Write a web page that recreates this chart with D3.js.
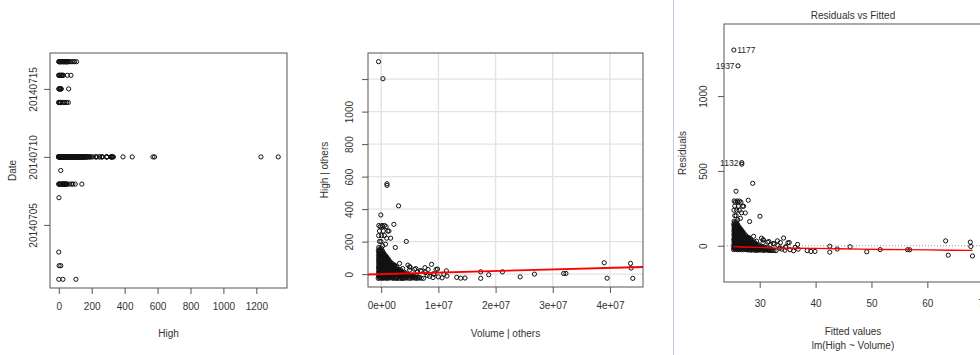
<!DOCTYPE html>
<html>
<head>
<meta charset="utf-8">
<script src="https://cdn.jsdelivr.net/npm/d3@7"></script>
<style>
  body { margin: 0; background: #fff; }
  svg { display: block; font-family: "Liberation Sans", Arial, sans-serif; }
</style>
</head>
<body>
<svg id="chart" width="980" height="355"></svg>
<script>
// ---- Data: one list of [High, Volume (thousand shares)] per trading day ----
const jul01 = [[0,4200],[25,9800],[104,1200]];
const jul02 = [[2,15200],[12,2600]];
const jul03 = [[0,3300]];
const jul07 = [[1,40050]];
const jul08 = [[1,380],[2,3400],[0,7930],[10,2080],[11,5860],[21,1580],[18,3860],[20,6140],[26,1000],[30,3280],
  [28,4800],[35,850],[38,2370],[36,3890],[44,1040],[47,2560],[45,4080],[53,2760],[66,8200],[78,2500],[86,9350],
  [100,1700],[140,900]];
const jul09 = [[12,2300]];
const jul10 = [
  [0,20],[2,1150],[3,2260],[1,3010],[0,3790],[0,4520],[1,5300],[3,6050],[0,6800],[1,7550],
  [5,200],[4,900],[6,1700],[5,2500],[4,3300],[6,4100],[5,4900],[4,5700],[6,6500],[5,7200],
  [9,190],[11,1330],[12,2450],[10,3200],[9,3960],[8,4720],[9,5480],[10,6240],[9,7000],
  [14,400],[13,1100],[15,1900],[14,2700],[13,3500],[15,4300],[14,5100],[13,5900],
  [18,60],[17,820],[18,1960],[19,2720],[21,3480],[20,4240],[17,5000],[18,5760],
  [23,150],[22,900],[24,1650],[23,2400],[22,3150],[24,3900],[23,4650],[22,5400],
  [27,250],[30,1380],[27,2140],[26,2900],[28,3660],[29,4420],[26,5180],
  [32,350],[31,1100],[33,1800],[32,2550],[31,3300],[33,4050],
  [36,90],[39,1230],[36,1990],[35,2750],[37,3510],[38,4270],
  [41,180],[40,950],[42,1700],[41,2450],[40,3200],[42,3950],
  [45,280],[48,1420],[45,2180],[44,2940],[46,3700],
  [50,400],[49,1150],[51,1900],[50,2650],[49,3400],
  [54,100],[53,860],[55,1620],[56,2380],[57,3140],[54,3880],
  [59,200],[58,950],[60,1700],[59,2450],[58,3100],
  [63,300],[65,680],[62,1060],[66,1440],[64,1820],[63,2200],[65,2580],[62,2960],[64,3340],
  [68,100],[67,850],[69,1600],[68,2350],
  [72,120],[74,500],[71,880],[75,1260],[73,1640],[72,2020],[74,2400],[71,2780],[73,3160],
  [77,300],[76,1000],[78,1700],[77,2400],
  [81,310],[83,690],[80,1070],[84,1450],[82,1830],[81,2210],[83,2590],[82,2900],
  [86,150],[85,800],[87,1500],[86,2150],
  [90,140],[92,520],[89,900],[93,1280],[91,1660],[90,2040],[92,2420],
  [95,350],[94,1000],[96,1700],
  [99,330],[101,710],[98,1090],[102,1470],[100,1850],[99,2200],
  [104,100],[103,800],[105,1500],
  [108,160],[110,540],[107,920],[111,1300],[109,1680],[108,1980],
  [113,300],[112,950],[114,1600],
  [117,350],[119,730],[116,1110],[120,1490],[118,1790],
  [122,100],[121,800],[123,1400],
  [126,180],[128,560],[125,940],[129,1320],[127,1580],
  [131,250],[130,900],
  [135,370],[137,750],[134,1130],[136,1400],
  [140,100],[139,700],
  [144,200],[146,580],[143,960],[145,1200],
  [149,300],[148,900],
  [153,390],[155,770],[152,1000],
  [158,100],[157,600],
  [162,220],[164,600],[163,850],
  [167,300],
  [171,60],[173,410],[172,700],
  [181,250],[186,560],[190,120],
  [325,130],[318,370],[318,830],[325,1130],[332,2760],[390,480],[446,3585],[227,4940],[190,3010],[263,100],
  [263,600],[291,250],[318,1400],[291,1700],[263,1100],[291,900],[247,2200],[247,1500],[227,500],[325,700],
  [291,1900],[210,1300],[227,250],[200,800],
  [1333,80],[1228,850],[582,1550],[572,1560],
  [35,8300],[12,9000],[28,9700],[3,11200],[18,8600],[48,7400],[60,6600],[70,5500],[40,6900],[5,9600],
  [25,11500],[92,3760],[81,5220],[55,6390],[51,5520],[44,7570],
  [55,8750],[55,10150],[57,10400],[46,11950],[9,10550],[6,13750],[1,14450],[40,17950],[0,17950],[22,19350],
  [40,21750],[9,24850],[26,27350],[30,32450],[30,32850],[0,44550]
];
const jul14 = [[0,1500],[0,5680],[8,950],[10,4340],[4,3200],[12,600],[22,1000],[30,2900],[38,1800],[48,3700],[58,2400]];
const jul15 = [[0,760],[2,4900],[9,1700],[12,5100],[5,2500],[14,800],[14,12050],[60,4300]];
const jul16 = [[0,2640],[1,6420],[8,2830],[20,430],[20,2340],[21,5380],[28,1760],[52,1240],[74,2650],[4,1300],[13,4000],[16,900]];
const jul17 = [[1,1880],[1,4150],[2,7180],[10,570],[11,3580],[8,6620],[19,1200],[17,3100],[19,4620],[29,620],
  [29,2520],[27,4040],[38,470],[37,1610],[39,3130],[37,4650],[47,660],[46,1800],[48,3320],[56,480],
  [54,2000],[55,3520],[70,5600],[80,2800],[108,1400],[96,39550],[92,44150],[63,44250]];

const sessions = [
  [20140701, jul01], [20140702, jul02], [20140703, jul03], [20140707, jul07], [20140708, jul08],
  [20140709, jul09], [20140710, jul10], [20140714, jul14], [20140715, jul15], [20140716, jul16], [20140717, jul17]
];

// lm(High ~ Volume) coefficients and the sample mean of Volume
const fitIntercept = 25.3;
const fitSlope = 0.96e-6;
const volumeMean = 5.5e5;

// Row names of the three largest residuals, largest first
const outlierIds = [1177, 1937, 1132];

// Lowess smooth of the residuals (fitted value, residual)
const smoothFitted = [25.3, 27, 30, 33.5, 36, 40, 44, 48, 52, 56, 60, 64, 68.1];
const smoothResid  = [-6, -8, -11, -15, -16.5, -18, -20, -22, -25, -26, -28, -30, -31];

// Tick values and labels
const highTicks = [0, 200, 400, 600, 800, 1000, 1200];
const dateTicks = [20140705, 20140710, 20140715];
const volumeTicks = [0, 1e7, 2e7, 3e7, 4e7];
const volumeTickLabels = ["0e+00", "1e+07", "2e+07", "3e+07", "4e+07"];
const avTicks = [0, 200, 400, 600, 800, 1000, 1200];
const avTickLabels = ["0", "200", "400", "600", "800", "1000", ""];
const fittedTicks = [30, 40, 50, 60, 70];
const residTicks = [0, 500, 1000];

// ---- Derived quantities ----
const highMean = fitIntercept + fitSlope * volumeMean;
const obs = [];
sessions.forEach(([date, rows]) => rows.forEach(([high, vk]) => {
  const volume = vk * 1000;
  const fitted = fitIntercept + fitSlope * volume;
  obs.push({ date, high, volume,
    avX: volume - volumeMean, avY: high - highMean,
    fitted, resid: high - fitted });
}));

// ---- Drawing helpers ----
const svg = d3.select("#chart");
const TEXT = "#333", LINE = "#555", PT = "#111";
const FONT = "'Liberation Sans', Arial, sans-serif";

const pad = ([lo, hi], f = 0.04) => { const d = (hi - lo) * f; return [lo - d, hi + d]; };

function points(g, data, x, y) {
  g.append("g").selectAll("circle").data(data).join("circle")
    .attr("cx", d => x(d)).attr("cy", d => y(d)).attr("r", 2.1)
    .attr("fill", "none").attr("stroke", PT).attr("stroke-width", 1);
}
function box(p) {
  svg.append("rect").attr("x", p.left).attr("y", p.top)
    .attr("width", p.right - p.left).attr("height", p.bottom - p.top)
    .attr("fill", "none").attr("stroke", LINE).attr("stroke-width", 1);
}
function styleAxis(g) {
  g.select(".domain").remove();
  g.selectAll("line").attr("stroke", LINE);
  g.selectAll("text").attr("fill", TEXT).attr("font-size", 10).attr("font-family", FONT);
}
function xAxis(p, scale, vals, labels, padding = 9) {
  svg.append("g").attr("transform", `translate(0,${p.bottom})`)
    .call(d3.axisBottom(scale).tickValues(vals).tickSize(6).tickPadding(padding)
      .tickFormat((d, i) => labels ? labels[i] : d))
    .call(styleAxis);
}
function yAxis(p, scale, vals, labels, dist) {
  svg.append("g").attr("transform", `translate(${p.left},0)`)
    .call(d3.axisLeft(scale).tickValues(vals).tickSize(6)
      .tickFormat((d, i) => labels ? labels[i] : d))
    .call(styleAxis)
    .call(g => g.selectAll("text")
      .attr("transform", "rotate(-90)").attr("x", 0).attr("y", -dist)
      .attr("dy", "0.35em").attr("text-anchor", "middle"));
}
function label(x, y, txt, rotate, size = 10) {
  svg.append("text").attr("transform", `translate(${x},${y})${rotate ? " rotate(-90)" : ""}`)
    .attr("text-anchor", "middle").attr("dy", "0.35em")
    .attr("font-size", size).attr("fill", TEXT).text(txt);
}

// ---- Panel 1: High by Date ----
const p1 = { left: 50, right: 287, top: 53, bottom: 288 };
const x1 = d3.scaleLinear().domain(pad(d3.extent(obs, d => d.high))).range([p1.left, p1.right]);
const y1 = d3.scaleLinear().domain(pad(d3.extent(obs, d => d.date))).range([p1.bottom, p1.top]);
points(svg, obs, d => x1(d.high), d => y1(d.date));
box(p1);
xAxis(p1, x1, highTicks);
yAxis(p1, y1, dateTicks, null, 17);
label((p1.left + p1.right) / 2, 333, "High");
label(12, (p1.top + p1.bottom) / 2, "Date", true);

// ---- Panel 2: added-variable plot ----
const p2 = { left: 368, right: 643, top: 53, bottom: 287 };
const x2 = d3.scaleLinear().domain(pad(d3.extent(obs, d => d.avX))).range([p2.left, p2.right]);
const y2 = d3.scaleLinear().domain(pad(d3.extent(obs, d => d.avY))).range([p2.bottom, p2.top]);
const grid = svg.append("g").attr("stroke", "#e3e3e3").attr("stroke-width", 1.4);
grid.selectAll(".gx").data(volumeTicks).join("line")
  .attr("x1", d => x2(d)).attr("x2", d => x2(d)).attr("y1", p2.top).attr("y2", p2.bottom);
grid.selectAll(".gy").data(avTicks).join("line")
  .attr("x1", p2.left).attr("x2", p2.right).attr("y1", d => y2(d)).attr("y2", d => y2(d));
points(svg, obs, d => x2(d.avX), d => y2(d.avY));
const [ax0, ax1] = x2.domain();
svg.append("line").attr("x1", x2(ax0)).attr("x2", x2(ax1))
  .attr("y1", y2(fitSlope * ax0)).attr("y2", y2(fitSlope * ax1))
  .attr("stroke", "#ff0000").attr("stroke-width", 1.8);
box(p2);
xAxis(p2, x2, volumeTicks, volumeTickLabels);
yAxis(p2, y2, avTicks, avTickLabels, 19);
label((p2.left + p2.right) / 2, 333, "Volume | others");
label(324, (p2.top + p2.bottom) / 2, "High | others", true);

// ---- Separator between the graphics windows ----
svg.append("line").attr("x1", 673.5).attr("x2", 673.5).attr("y1", 0).attr("y2", 355)
  .attr("stroke", "#bfd0e6").attr("stroke-width", 1);

// ---- Panel 3: Residuals vs Fitted ----
const p3 = { left: 724, right: 982, top: 24, bottom: 282 };
const x3 = d3.scaleLinear().domain(pad(d3.extent(obs, d => d.fitted))).range([p3.left, p3.right]);
const y3 = d3.scaleLinear().domain(pad(pad(d3.extent(obs, d => d.resid), 0.08))).range([p3.bottom, p3.top]);
svg.append("line").attr("x1", p3.left).attr("x2", p3.right).attr("y1", y3(0)).attr("y2", y3(0))
  .attr("stroke", "#9a9a9a").attr("stroke-dasharray", "1,2");
points(svg, obs, d => x3(d.fitted), d => y3(d.resid));
svg.append("path")
  .attr("d", d3.line()(smoothFitted.map((f, i) => [x3(f), y3(smoothResid[i])])))
  .attr("fill", "none").attr("stroke", "#ff0000").attr("stroke-width", 1.3);
const ranked = obs.slice().sort((a, b) => Math.abs(b.resid) - Math.abs(a.resid)).slice(0, outlierIds.length);
const labelAnchor = ["start", "end", "end"];
ranked.forEach((d, i) => {
  const right = labelAnchor[i] === "start";
  svg.append("text").attr("x", x3(d.fitted) + (right ? 3.4 : -3.4)).attr("y", y3(d.resid))
    .attr("dy", "0.35em").attr("text-anchor", labelAnchor[i])
    .attr("font-size", 8.5).attr("fill", "#222").text(outlierIds[i]);
});
box(p3);
xAxis(p3, x3, fittedTicks, null, 12);
yAxis(p3, y3, residTicks, null, 20.7);
label((p3.left + p3.right) / 2, 15, "Residuals vs Fitted");
label((p3.left + p3.right) / 2, 331.5, "Fitted values");
label((p3.left + p3.right) / 2, 345, "lm(High ~ Volume)");
label(682, (p3.top + p3.bottom) / 2, "Residuals", true);
</script>
</body>
</html>
